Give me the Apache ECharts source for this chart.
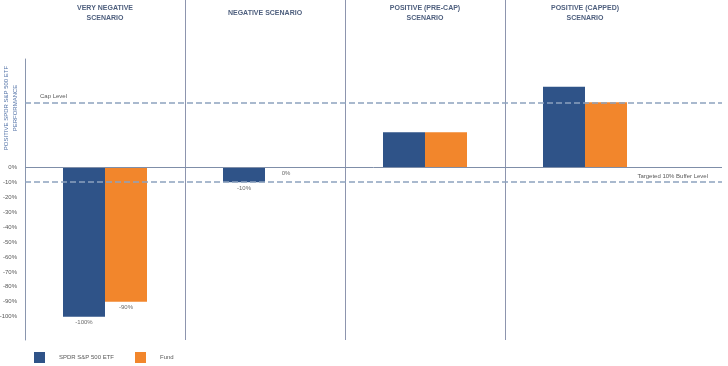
<!DOCTYPE html>
<html><head><meta charset="utf-8">
<script src="https://cdn.jsdelivr.net/npm/echarts@6/dist/echarts.min.js"></script>
<style>html,body{margin:0;padding:0;background:#fff}#c{width:728px;height:366px}</style>
</head><body><div id="c"></div>
<script>
const categories = ['VERY NEGATIVE\nSCENARIO', 'NEGATIVE SCENARIO', 'POSITIVE (PRE-CAP)\nSCENARIO', 'POSITIVE (CAPPED)\nSCENARIO'];
const spdrValues = [-100, -10, 23.5, 54];
const fundValues = [-90, 0, 23.5, 43.5];
const showLabel = [true, true, false, false];
const yTickValues = [0, -10, -20, -30, -40, -50, -60, -70, -80, -90, -100];
const capLevel = 43.5;
const bufferLevel = -10;
const dividerPositions = [1, 2, 3];

const font = 'Liberation Sans';
const chart = echarts.init(document.getElementById('c'), null, {renderer: 'canvas'});
const mk = (vals) => vals.map((v, i) => ({value: v, label: {show: showLabel[i]}}));
const barLabel = {position: 'bottom', distance: 3, fontSize: 6, color: '#6b6b6b', fontFamily: font, formatter: p => p.value + '%'};
const dash = {type: [6, 3], color: '#8DA2BF', width: 1.5};

chart.setOption({
  animation: false,
  grid: [
    {left: 25, right: 6, top: 0, height: 340, outerBoundsMode: 'none', containLabel: false},
    {left: 25, width: 640, top: 59, height: 281, outerBoundsMode: 'none', containLabel: false}
  ],
  xAxis: [
    {gridIndex: 0, type: 'value', min: 0, max: 4.35625, show: false},
    {gridIndex: 1, type: 'category', data: categories, position: 'top',
     axisLine: {show: false}, axisTick: {show: false},
     axisLabel: {margin: 46, verticalAlign: 'middle', fontSize: 7, fontWeight: 'bold', color: '#4E5F7E', fontFamily: font, lineHeight: 10}}
  ],
  yAxis: [
    {gridIndex: 0, type: 'value', min: -115.6, max: 112.0, show: false},
    {gridIndex: 1, type: 'value', min: -115.6, max: 72.5,
     axisLine: {show: true, lineStyle: {color: '#8A96AE', width: 1}},
     axisTick: {show: false}, splitLine: {show: false},
     axisLabel: {customValues: yTickValues, formatter: v => v + '%', fontSize: 6, color: '#595959', margin: 8, fontFamily: font}}
  ],
  legend: {
    left: 34, top: 352, padding: 0, itemWidth: 11, itemHeight: 11, itemGap: 21, icon: 'rect',
    textStyle: {fontSize: 6, color: '#595959', fontFamily: font, padding: [0, 0, 0, 9]},
    data: ['SPDR S&P 500 ETF', 'Fund']
  },
  graphic: [{
    type: 'text', x: 11, y: 108, rotation: Math.PI / 2,
    style: {text: 'POSITIVE SPDR S&P 500 ETF\nPERFORMANCE', align: 'center', verticalAlign: 'middle',
            fontSize: 6, fill: '#5574A8', fontFamily: font, lineHeight: 9}
  }],
  series: [
    {type: 'line', xAxisIndex: 0, yAxisIndex: 0, data: [], silent: true,
     markLine: {silent: true, symbol: 'none', animation: false,
       data: [
         ...dividerPositions.map(x => ({xAxis: x, lineStyle: {type: 'solid', color: '#8D95AE', width: 1}, label: {show: false}})),
         {yAxis: 0, lineStyle: {type: 'solid', color: '#7F8EA8', width: 1}, label: {show: false}},
         {yAxis: capLevel, lineStyle: dash, label: {show: true, position: 'insideStartTop', formatter: 'Cap Level', fontSize: 6, color: '#595959', fontFamily: font, distance: [15, 3]}},
         {yAxis: bufferLevel, lineStyle: dash, label: {show: true, position: 'insideEndTop', formatter: 'Targeted 10% Buffer Level', fontSize: 6, color: '#595959', fontFamily: font, distance: [14, 3]}}
       ]}},
    {name: 'SPDR S&P 500 ETF', type: 'bar', xAxisIndex: 1, yAxisIndex: 1, barWidth: 42, barGap: 0,
     itemStyle: {color: '#2F5388'}, label: barLabel, data: mk(spdrValues)},
    {name: 'Fund', type: 'bar', xAxisIndex: 1, yAxisIndex: 1, barWidth: 42, barGap: 0,
     itemStyle: {color: '#F2862C'}, label: barLabel, data: mk(fundValues)}
  ]
});
</script></body></html>
